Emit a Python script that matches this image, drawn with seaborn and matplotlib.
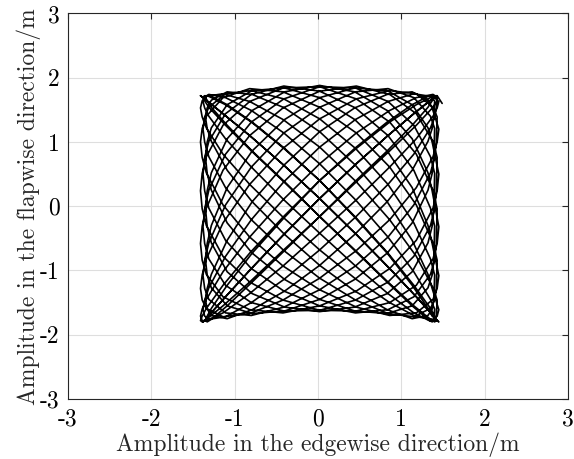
import pandas as pd
import matplotlib
matplotlib.use("Agg")
import matplotlib.pyplot as plt
import seaborn as sns

# trajectory of the blade tip, read loop by loop off the figure (24 points per loop)
edge_x = [
    1.49, 1.43, 1.38, 1.18, 0.86, 0.46, 0.02, -0.42, -0.82, -1.14, -1.34, -1.39, -1.41, -1.39, -1.34, -1.14, -0.82, -0.42, 0.02, 0.46, 0.86, 1.18, 1.38, 1.43,
    1.42, 1.40, 1.35, 1.15, 0.84, 0.45, 0.02, -0.41, -0.80, -1.11, -1.31, -1.36, -1.38, -1.36, -1.31, -1.11, -0.80, -0.41, 0.02, 0.45, 0.84, 1.15, 1.35, 1.40,
    1.39, 1.37, 1.32, 1.13, 0.83, 0.44, 0.02, -0.40, -0.79, -1.09, -1.28, -1.33, -1.35, -1.33, -1.28, -1.09, -0.79, -0.40, 0.02, 0.44, 0.83, 1.13, 1.32, 1.37,
    1.45, 1.43, 1.38, 1.18, 0.86, 0.46, 0.02, -0.42, -0.82, -1.14, -1.34, -1.39, -1.41, -1.39, -1.34, -1.14, -0.82, -0.42, 0.02, 0.46, 0.86, 1.18, 1.38, 1.43,
    1.42, 1.40, 1.35, 1.15, 0.84, 0.45, 0.02, -0.41, -0.80, -1.11, -1.31, -1.36, -1.38, -1.36, -1.31, -1.11, -0.80, -0.41, 0.02, 0.45, 0.84, 1.15, 1.35, 1.40,
    1.39, 1.37, 1.32, 1.13, 0.83, 0.44, 0.02, -0.40, -0.79, -1.09, -1.28, -1.33, -1.35, -1.33, -1.28, -1.09, -0.79, -0.40, 0.02, 0.44, 0.83, 1.13, 1.32, 1.37,
    1.45, 1.43, 1.38, 1.18, 0.86, 0.46, 0.02, -0.42, -0.82, -1.14, -1.34, -1.39, -1.41, -1.39, -1.34, -1.14, -0.82, -0.42, 0.02, 0.46, 0.86, 1.18, 1.38, 1.43,
    1.42, 1.40, 1.35, 1.15, 0.84, 0.45, 0.02, -0.41, -0.80, -1.11, -1.31, -1.36, -1.38, -1.36, -1.31, -1.11, -0.80, -0.41, 0.02, 0.45, 0.84, 1.15, 1.35, 1.40,
    1.39, 1.37, 1.32, 1.13, 0.83, 0.44, 0.02, -0.40, -0.79, -1.09, -1.28, -1.33, -1.35, -1.33, -1.28, -1.09, -0.79, -0.40, 0.02, 0.44, 0.83, 1.13, 1.32, 1.37,
    1.45, 1.43, 1.38, 1.18, 0.86, 0.46, 0.02, -0.42, -0.82, -1.14, -1.34, -1.39, -1.41, -1.39, -1.34, -1.14, -0.82, -0.42, 0.02, 0.46, 0.86, 1.18, 1.38, 1.43,
    1.42, 1.40, 1.35, 1.15, 0.84, 0.45, 0.02, -0.41, -0.80, -1.11, -1.31, -1.36, -1.38, -1.36, -1.31, -1.11, -0.80, -0.41, 0.02, 0.45, 0.84, 1.15, 1.35, 1.40,
    1.39, 1.37, 1.32, 1.13, 0.83, 0.44, 0.02, -0.40, -0.79, -1.09, -1.28, -1.33, -1.35, -1.33, -1.28, -1.09, -0.79, -0.40, 0.02, 0.44, 0.83, 1.13, 1.32, 1.37,
    1.45, 1.43, 1.38, 1.18, 0.86, 0.46, 0.02, -0.42, -0.82, -1.14, -1.34, -1.39, -1.41, -1.39, -1.34, -1.14, -0.82, -0.42, 0.02, 0.46, 0.86, 1.18, 1.38, 1.43,
    1.42, 1.40, 1.35, 1.15, 0.84, 0.45, 0.02, -0.41, -0.80, -1.11, -1.31, -1.36, -1.38, -1.36, -1.31, -1.11, -0.80, -0.41, 0.02, 0.45, 0.84, 1.15, 1.35, 1.40,
    1.39, 1.37, 1.32, 1.13, 0.83, 0.44, 0.02, -0.40, -0.79, -1.09, -1.28, -1.33, -1.35, -1.33, -1.28, -1.09, -0.79, -0.40, 0.02, 0.44, 0.83, 1.13, 1.32, 1.37,
    1.45, 1.43, 1.38, 1.18, 0.86, 0.46, 0.02, -0.42, -0.82, -1.14, -1.34, -1.39, -1.41, -1.39, -1.34, -1.14, -0.82, -0.42, 0.02, 0.46, 0.86, 1.18, 1.38, 1.43,
    1.42, 1.40, 1.35, 1.15, 0.84, 0.45, 0.02, -0.41, -0.80, -1.11, -1.31, -1.36, -1.38, -1.36, -1.31, -1.11, -0.80, -0.41, 0.02, 0.45, 0.84, 1.15, 1.35, 1.40,
    1.39, 1.37, 1.32, 1.13, 0.83, 0.44, 0.02, -0.40, -0.79, -1.09, -1.28, -1.33, -1.35, -1.33, -1.28, -1.09, -0.79, -0.40, 0.02, 0.44, 0.83, 1.13, 1.32, 1.37,
    1.45, 1.43, 1.38, 1.18, 0.86, 0.46, 0.02, -0.42, -0.82, -1.14, -1.34, -1.39, -1.41, -1.39, -1.34, -1.14, -0.82, -0.42, 0.02, 0.46, 0.86, 1.18, 1.38, 1.43,
    1.42, 1.40, 1.35, 1.15, 0.84, 0.45, 0.02, -0.41, -0.80, -1.11, -1.31, -1.36, -1.38, -1.36, -1.31, -1.11, -0.80, -0.41, 0.02, 0.45, 0.84, 1.15, 1.35, 1.40,
    1.39, 1.37, 1.32, 1.13, 0.83, 0.44, 0.02, -0.40, -0.79, -1.09, -1.28, -1.33, -1.35, -1.33, -1.28, -1.09, -0.79, -0.40, 0.02, 0.44, 0.83, 1.13, 1.32, 1.37,
    1.45, 1.43, 1.38, 1.18, 0.86, 0.46, 0.02, -0.42, -0.82, -1.14, -1.34, -1.39, -1.41, -1.39, -1.34, -1.14, -0.82, -0.42, 0.02, 0.46, 0.86, 1.18, 1.38, 1.43,
    1.42, 1.40, 1.35, 1.15, 0.84, 0.45, 0.02, -0.41, -0.80, -1.11, -1.31, -1.36, -1.38, -1.36, -1.31, -1.11, -0.80, -0.41, 0.02, 0.45, 0.84, 1.15, 1.35, 1.40,
    1.43,
]
flap_y = [
    1.60, 1.72, 1.71, 1.58, 1.31, 0.90, 0.40, -0.17, -0.73, -1.23, -1.59, -1.71, -1.78, -1.80, -1.76, -1.55, -1.18, -0.69, -0.16, 0.38, 0.86, 1.26, 1.54, 1.64,
    1.72, 1.70, 1.65, 1.44, 1.10, 0.65, 0.12, -0.44, -0.97, -1.41, -1.70, -1.78, -1.80, -1.78, -1.70, -1.41, -0.97, -0.44, 0.12, 0.65, 1.10, 1.44, 1.65, 1.70,
    1.70, 1.64, 1.54, 1.26, 0.86, 0.38, -0.16, -0.69, -1.18, -1.55, -1.76, -1.80, -1.78, -1.71, -1.59, -1.23, -0.73, -0.17, 0.40, 0.90, 1.31, 1.58, 1.71, 1.72,
    1.63, 1.53, 1.40, 1.05, 0.61, 0.10, -0.42, -0.93, -1.36, -1.66, -1.78, -1.78, -1.71, -1.60, -1.45, -1.02, -0.48, 0.10, 0.66, 1.14, 1.49, 1.69, 1.74, 1.70,
    1.53, 1.39, 1.22, 0.81, 0.34, -0.17, -0.68, -1.14, -1.50, -1.72, -1.76, -1.71, -1.61, -1.46, -1.27, -0.78, -0.21, 0.38, 0.92, 1.35, 1.63, 1.75, 1.71, 1.64,
    1.38, 1.21, 1.01, 0.56, 0.07, -0.44, -0.92, -1.32, -1.61, -1.75, -1.70, -1.60, -1.46, -1.28, -1.06, -0.53, 0.07, 0.65, 1.16, 1.53, 1.74, 1.78, 1.65, 1.53,
    1.20, 1.00, 0.77, 0.29, -0.21, -0.69, -1.12, -1.46, -1.67, -1.72, -1.59, -1.46, -1.28, -1.07, -0.82, -0.26, 0.34, 0.90, 1.36, 1.67, 1.80, 1.75, 1.54, 1.39,
    1.00, 0.76, 0.52, 0.02, -0.48, -0.93, -1.30, -1.57, -1.70, -1.66, -1.45, -1.28, -1.08, -0.84, -0.57, 0.02, 0.61, 1.14, 1.54, 1.78, 1.83, 1.69, 1.40, 1.21,
    0.76, 0.51, 0.25, -0.26, -0.73, -1.14, -1.45, -1.63, -1.67, -1.55, -1.27, -1.07, -0.84, -0.58, -0.30, 0.29, 0.86, 1.35, 1.69, 1.84, 1.80, 1.58, 1.22, 1.00,
    0.50, 0.24, -0.03, -0.53, -0.97, -1.32, -1.55, -1.66, -1.61, -1.41, -1.06, -0.84, -0.58, -0.31, -0.03, 0.56, 1.10, 1.53, 1.79, 1.87, 1.74, 1.44, 1.01, 0.76,
    0.24, -0.04, -0.30, -0.78, -1.18, -1.46, -1.62, -1.63, -1.50, -1.23, -0.82, -0.58, -0.32, -0.04, 0.25, 0.81, 1.31, 1.67, 1.86, 1.84, 1.63, 1.26, 0.77, 0.51,
    -0.04, -0.31, -0.57, -1.02, -1.36, -1.57, -1.64, -1.57, -1.36, -1.02, -0.57, -0.31, -0.04, 0.24, 0.52, 1.05, 1.49, 1.78, 1.88, 1.78, 1.49, 1.05, 0.52, 0.24,
    -0.32, -0.58, -0.82, -1.23, -1.50, -1.63, -1.62, -1.46, -1.18, -0.78, -0.30, -0.04, 0.24, 0.51, 0.77, 1.26, 1.63, 1.84, 1.86, 1.67, 1.31, 0.81, 0.25, -0.04,
    -0.58, -0.84, -1.06, -1.41, -1.61, -1.66, -1.55, -1.32, -0.97, -0.53, -0.03, 0.24, 0.50, 0.76, 1.01, 1.44, 1.74, 1.87, 1.79, 1.53, 1.10, 0.56, -0.03, -0.31,
    -0.84, -1.07, -1.27, -1.55, -1.67, -1.63, -1.45, -1.14, -0.73, -0.26, 0.25, 0.51, 0.76, 1.00, 1.22, 1.58, 1.80, 1.84, 1.69, 1.35, 0.86, 0.29, -0.30, -0.58,
    -1.08, -1.28, -1.45, -1.66, -1.70, -1.57, -1.30, -0.93, -0.48, 0.02, 0.52, 0.76, 1.00, 1.21, 1.40, 1.69, 1.83, 1.78, 1.54, 1.14, 0.61, 0.02, -0.57, -0.84,
    -1.28, -1.46, -1.59, -1.72, -1.67, -1.46, -1.12, -0.69, -0.21, 0.29, 0.77, 1.00, 1.20, 1.39, 1.54, 1.75, 1.80, 1.67, 1.36, 0.90, 0.34, -0.26, -0.82, -1.07,
    -1.46, -1.60, -1.70, -1.75, -1.61, -1.32, -0.92, -0.44, 0.07, 0.56, 1.01, 1.21, 1.38, 1.53, 1.65, 1.78, 1.74, 1.53, 1.16, 0.65, 0.07, -0.53, -1.06, -1.28,
    -1.61, -1.71, -1.76, -1.72, -1.50, -1.14, -0.68, -0.17, 0.34, 0.81, 1.22, 1.39, 1.53, 1.64, 1.71, 1.75, 1.63, 1.35, 0.92, 0.38, -0.21, -0.78, -1.27, -1.46,
    -1.71, -1.78, -1.79, -1.66, -1.36, -0.93, -0.42, 0.10, 0.61, 1.05, 1.40, 1.53, 1.63, 1.70, 1.74, 1.69, 1.49, 1.14, 0.66, 0.10, -0.48, -1.02, -1.45, -1.60,
    -1.78, -1.80, -1.76, -1.55, -1.18, -0.69, -0.16, 0.38, 0.86, 1.26, 1.54, 1.64, 1.70, 1.72, 1.71, 1.58, 1.31, 0.90, 0.40, -0.17, -0.73, -1.23, -1.59, -1.71,
    -1.80, -1.78, -1.70, -1.41, -0.97, -0.44, 0.12, 0.65, 1.10, 1.44, 1.65, 1.70, 1.72, 1.70, 1.65, 1.44, 1.10, 0.65, 0.12, -0.44, -0.97, -1.41, -1.70, -1.78,
    -1.78, -1.71, -1.59, -1.23, -0.73, -0.17, 0.40, 0.90, 1.31, 1.58, 1.71, 1.72, 1.70, 1.64, 1.54, 1.26, 0.86, 0.38, -0.16, -0.69, -1.18, -1.55, -1.76, -1.80,
    -1.77,
]

tick_values = [-3, -2, -1, 0, 1, 2, 3]
tick_labels = ["-3", "-2", "-1", "0", "1", "2", "3"]

sns.set_style("whitegrid")
plt.rcParams["font.family"] = "serif"
plt.rcParams["font.serif"] = ["cmr10", "DejaVu Serif"]
plt.rcParams["axes.unicode_minus"] = False

df = pd.DataFrame({"edge": edge_x, "flap": flap_y})

fig = plt.figure(figsize=(5.74, 4.59), dpi=100)
ax = fig.add_axes([0.1185, 0.1307, 0.871, 0.840])

sns.lineplot(data=df, x="edge", y="flap", sort=False, estimator=None,
             color="black", linewidth=1.2, ax=ax)

ax.set_xlim(-3, 3)
ax.set_ylim(-3, 3)
ax.set_xticks(tick_values, tick_labels)
ax.set_yticks(tick_values, tick_labels)
ax.grid(True, color="#dedede", linewidth=0.8)
for sp in ax.spines.values():
    sp.set_visible(True)
    sp.set_color("#262626")
    sp.set_linewidth(0.8)
ax.tick_params(direction="in", top=True, right=True, length=4, width=0.8,
               color="#262626", labelcolor="black", labelsize=17)
ax.tick_params(axis="x", pad=7)
ax.tick_params(axis="y", pad=6)

ax.set_xlabel("Amplitude in the edgewise direction/m", fontsize=17, labelpad=1)
ax.set_ylabel("Amplitude in the flapwise direction/m", fontsize=17, labelpad=-1)

fig.savefig("out.png", dpi=100)
